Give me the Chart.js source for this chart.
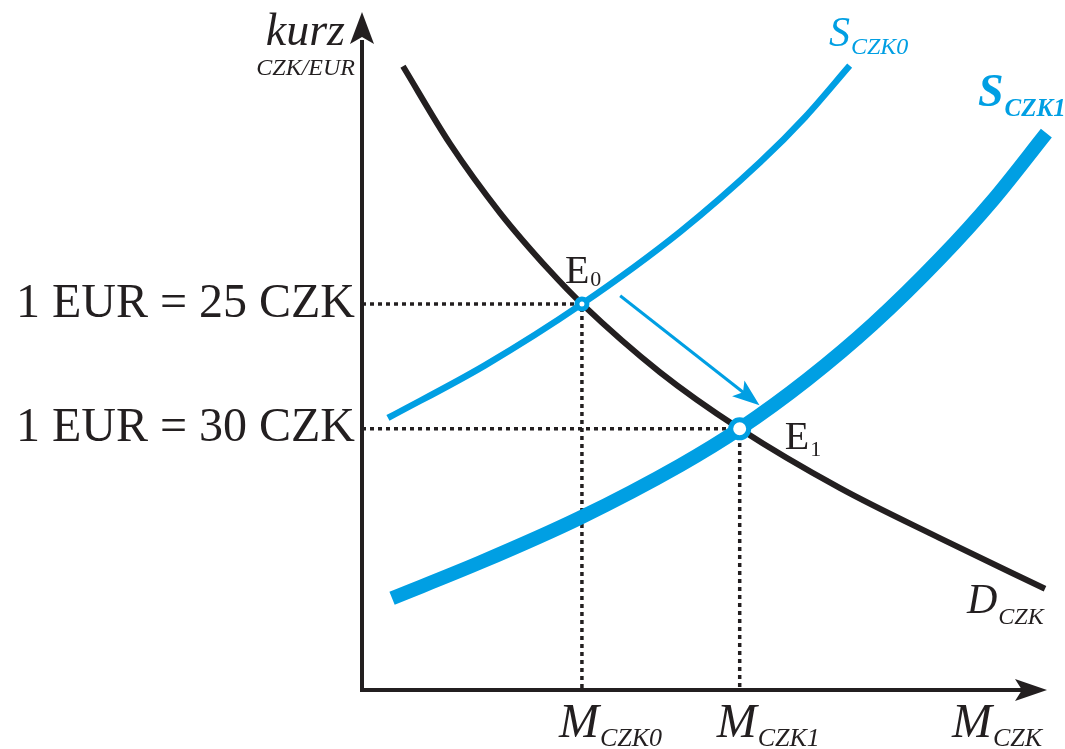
<!DOCTYPE html>
<html lang="cs">
<head>
  <meta charset="UTF-8">
  <title>Kurz CZK/EUR - nabídka a poptávka</title>
  <script src="https://cdn.jsdelivr.net/npm/chart.js"></script>
  <style>
    body { margin: 0; background: #fff; }
    #obal { width: 1065px; height: 749px; position: relative; }
  </style>
</head>
<body>

<div id="obal"><canvas id="graf"></canvas></div>

<script>
  // hodnoty odhadnuté z obrázku: x = množství M (0..100), y = kurz (0..100)
  const poptavkaD = [
    {x: 6.0, y: 92.4}, {x: 12.9, y: 80.9}, {x: 20.2, y: 70.7}, {x: 27.5, y: 62.1},
    {x: 32.2, y: 57.2}, {x: 43.6, y: 47.1}, {x: 55.3, y: 38.7}, {x: 70.0, y: 29.9},
    {x: 84.6, y: 22.5}, {x: 100.0, y: 15.0}
  ];
  const nabidkaS0 = [
    {x: 3.8, y: 40.3}, {x: 18.0, y: 48.1}, {x: 32.2, y: 57.2}, {x: 46.6, y: 67.9},
    {x: 58.3, y: 78.2}, {x: 64.9, y: 84.9}, {x: 71.4, y: 92.5}
  ];
  const nabidkaS1 = [
    {x: 4.4, y: 13.6}, {x: 17.3, y: 18.9}, {x: 31.9, y: 25.5}, {x: 46.6, y: 33.3},
    {x: 55.3, y: 38.7}, {x: 65.2, y: 46.0}, {x: 74.8, y: 54.2}, {x: 84.6, y: 63.9},
    {x: 92.4, y: 72.6}, {x: 100.2, y: 82.5}
  ];
  const rovnovahaE0 = {x: 32.2, y: 57.2};
  const rovnovahaE1 = {x: 55.3, y: 38.7};
  const sipkaPosun = [{x: 37.8, y: 58.4}, {x: 58.2, y: 42.2}];

  const kurzTicks = [38.7, 57.2];
  const kurzLabels = ['1 EUR = 30 CZK', '1 EUR = 25 CZK'];
  const mnozstviTicks = [32.2, 55.3];
  const mnozstviLabels = ['CZK0', 'CZK1'];

  const cerna = '#231f20';
  const modra = '#009fe3';
  const serif = '"Liberation Serif", "DejaVu Serif", serif';

  function pomocna(bod) {
    return [{x: 0, y: bod.y}, {x: bod.x, y: bod.y}, {x: bod.x, y: 0}];
  }

  // text s dolním indexem
  function sIndexem(ctx, hlavni, index, x, y, fHlavni, fIndex, dy) {
    ctx.textAlign = 'left';
    ctx.textBaseline = 'alphabetic';
    ctx.font = fHlavni;
    ctx.fillText(hlavni, x, y);
    const w = ctx.measureText(hlavni).width;
    ctx.font = fIndex;
    ctx.fillText(index, x + w + 1, y + dy);
  }

  const kresba = {
    id: 'kresba',
    beforeDatasetsDraw(chart) {
      const {ctx, chartArea: a, scales: {x, y}} = chart;
      const x0 = x.getPixelForValue(0), y0 = y.getPixelForValue(0);
      ctx.save();
      ctx.strokeStyle = cerna;
      ctx.fillStyle = cerna;
      ctx.lineWidth = 4;
      // osa y
      ctx.beginPath(); ctx.moveTo(x0, y0 + 2); ctx.lineTo(x0, a.top + 25); ctx.stroke();
      ctx.beginPath();
      ctx.moveTo(x0, a.top - 3); ctx.lineTo(x0 + 12, a.top + 29);
      ctx.lineTo(x0, a.top + 22); ctx.lineTo(x0 - 12, a.top + 29);
      ctx.closePath(); ctx.fill();
      // osa x
      ctx.beginPath(); ctx.moveTo(x0 - 2, y0); ctx.lineTo(a.right - 15, y0); ctx.stroke();
      ctx.beginPath();
      ctx.moveTo(a.right + 2, y0); ctx.lineTo(a.right - 30, y0 - 11);
      ctx.lineTo(a.right - 23, y0); ctx.lineTo(a.right - 30, y0 + 11);
      ctx.closePath(); ctx.fill();
      ctx.restore();
    },
    afterDatasetsDraw(chart) {
      const {ctx, scales: {x, y}} = chart;
      ctx.save();

      // šipka posunu rovnováhy
      const sx = x.getPixelForValue(sipkaPosun[0].x), sy = y.getPixelForValue(sipkaPosun[0].y);
      const ex = x.getPixelForValue(sipkaPosun[1].x), ey = y.getPixelForValue(sipkaPosun[1].y);
      const uhel = Math.atan2(ey - sy, ex - sx);
      ctx.strokeStyle = modra; ctx.fillStyle = modra; ctx.lineWidth = 3;
      ctx.beginPath(); ctx.moveTo(sx, sy);
      ctx.lineTo(ex - 20 * Math.cos(uhel), ey - 20 * Math.sin(uhel)); ctx.stroke();
      ctx.translate(ex, ey); ctx.rotate(uhel);
      ctx.beginPath(); ctx.moveTo(0, 0); ctx.lineTo(-27, -10); ctx.lineTo(-21, 0); ctx.lineTo(-27, 10);
      ctx.closePath(); ctx.fill();
      ctx.setTransform(1, 0, 0, 1, 0, 0);

      // popisky
      ctx.fillStyle = cerna;
      ctx.textAlign = 'right';
      ctx.textBaseline = 'alphabetic';
      ctx.font = 'italic 46px ' + serif;
      ctx.fillText('kurz', 345, 45);
      ctx.font = 'italic 24px ' + serif;
      ctx.fillText('CZK/EUR', 355, 75);

      const e0x = x.getPixelForValue(rovnovahaE0.x), e0y = y.getPixelForValue(rovnovahaE0.y);
      const e1x = x.getPixelForValue(rovnovahaE1.x), e1y = y.getPixelForValue(rovnovahaE1.y);
      sIndexem(ctx, 'E', '0', e0x - 17, e0y - 21, '40px ' + serif, '22px ' + serif, 3);
      sIndexem(ctx, 'E', '1', e1x + 45, e1y + 20, '40px ' + serif, '22px ' + serif, 7);

      const osaY = y.getPixelForValue(0);
      mnozstviTicks.forEach((v, i) => {
        sIndexem(ctx, 'M', mnozstviLabels[i], x.getPixelForValue(v) - 23, osaY + 47,
          'italic 48px ' + serif, 'italic 26px ' + serif, 9);
      });
      sIndexem(ctx, 'M', 'CZK', 952, osaY + 47, 'italic 48px ' + serif, 'italic 26px ' + serif, 9);
      sIndexem(ctx, 'D', 'CZK', 967, 613, 'italic 42px ' + serif, 'italic 24px ' + serif, 11);

      ctx.fillStyle = modra;
      sIndexem(ctx, 'S', 'CZK0', 829, 46, 'italic 42px ' + serif, 'italic 24px ' + serif, 8);
      sIndexem(ctx, 'S', 'CZK1', 978, 106, 'italic bold 46px ' + serif, 'italic bold 25px ' + serif, 10);
      ctx.restore();
    }
  };

  const linka = (data, barva, sirka) => ({
    data, borderColor: barva, borderWidth: sirka, showLine: true,
    pointRadius: 0, cubicInterpolationMode: 'monotone', clip: false, borderCapStyle: 'butt'
  });

  new Chart(document.getElementById('graf'), {
    type: 'scatter',
    data: {
      datasets: [
        { data: [rovnovahaE1], pointRadius: 9, pointBorderWidth: 5, pointBorderColor: modra,
          pointBackgroundColor: '#fff', clip: false },
        { data: [rovnovahaE0], pointRadius: 5, pointBorderWidth: 5, pointBorderColor: modra,
          pointBackgroundColor: '#fff', clip: false },
        linka(nabidkaS1, modra, 14),
        linka(nabidkaS0, modra, 6.5),
        linka(poptavkaD, cerna, 6),
        { data: pomocna(rovnovahaE0), showLine: true, borderColor: cerna, borderWidth: 3.5,
          borderDash: [4, 4], pointRadius: 0, tension: 0, clip: false },
        { data: pomocna(rovnovahaE1), showLine: true, borderColor: cerna, borderWidth: 3.5,
          borderDash: [4, 4], pointRadius: 0, tension: 0, clip: false }
      ]
    },
    options: {
      responsive: true,
      maintainAspectRatio: false,
      animation: false,
      layout: { padding: { top: 15, right: 20, bottom: 59, left: 0 } },
      plugins: { legend: { display: false }, tooltip: { enabled: false } },
      scales: {
        x: { type: 'linear', min: 0, max: 100, display: false },
        y: {
          type: 'linear', min: 0, max: 100, position: 'left',
          grid: { display: false, drawTicks: false },
          border: { display: false },
          ticks: {
            padding: 7, color: cerna,
            font: { family: serif, size: 48 },
            callback: (v, i) => kurzLabels[i]
          },
          afterBuildTicks: s => { s.ticks = kurzTicks.map(v => ({ value: v })); },
          afterFit: s => { s.width = 362; s.paddingTop = 0; s.paddingBottom = 0; }
        }
      }
    },
    plugins: [kresba]
  });
</script>

</body>
</html>
